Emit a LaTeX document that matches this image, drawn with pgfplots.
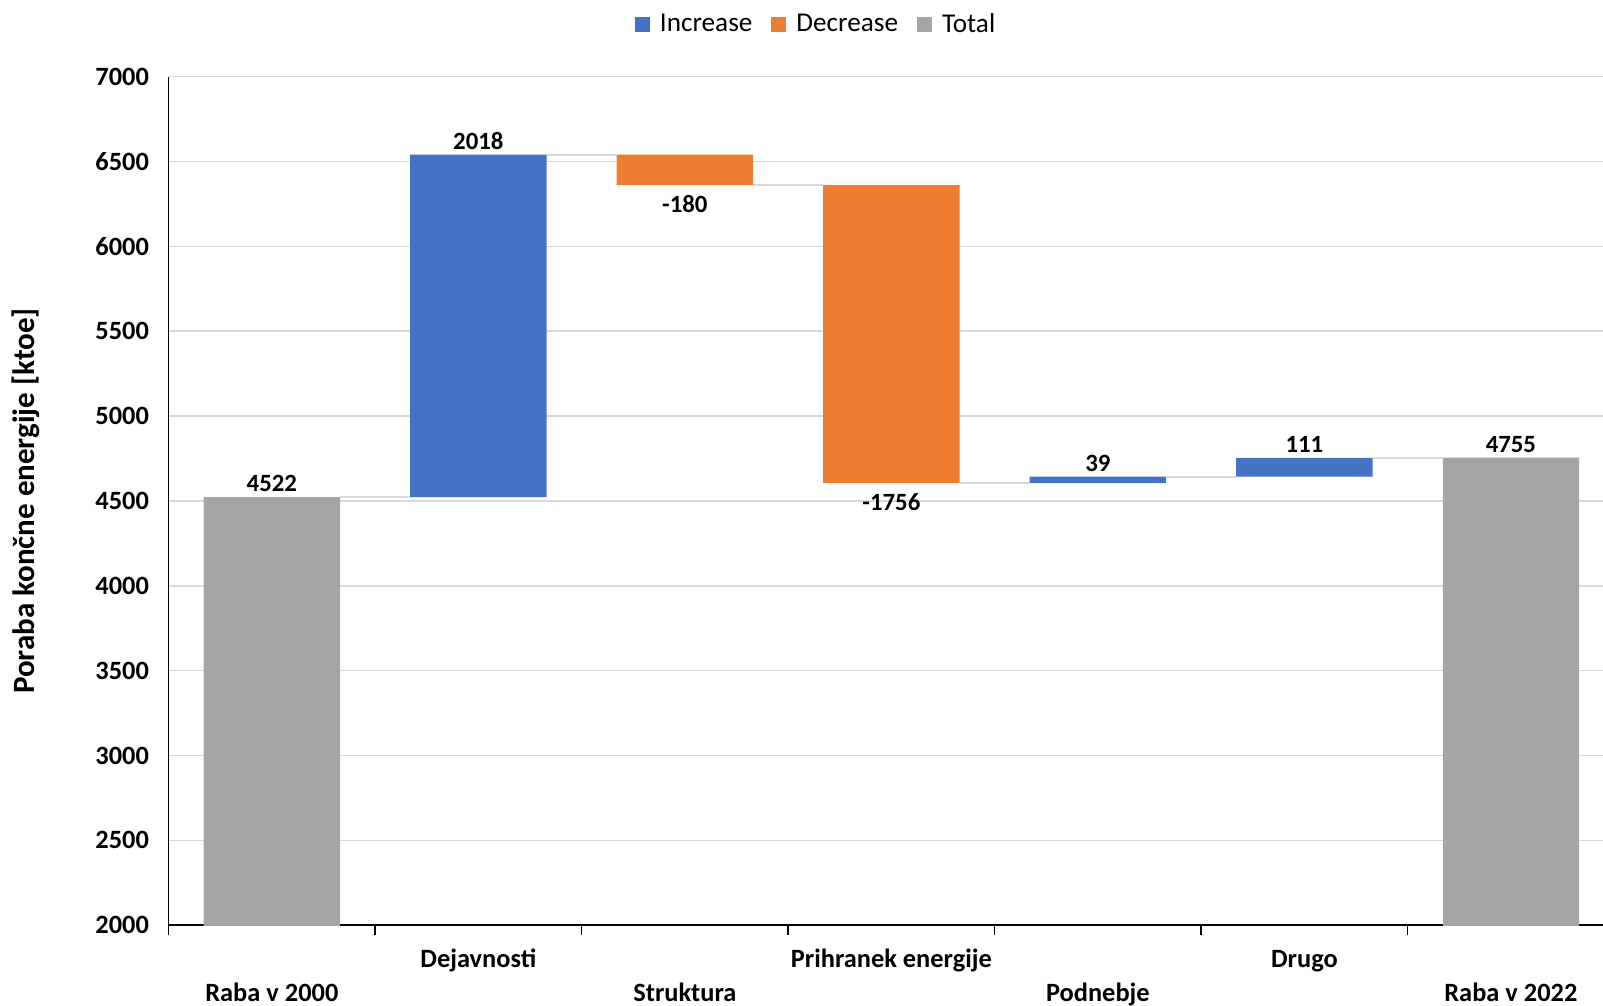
\documentclass[border=0pt]{standalone}
\usepackage{fontspec}
\setmainfont{Carlito}
\usepackage{pgfplots}
\pgfplotsset{compat=1.18}
\definecolor{inc}{HTML}{4472C4}
\definecolor{dec}{HTML}{ED7D31}
\definecolor{tot}{HTML}{A5A5A5}
\definecolor{gridc}{HTML}{D9D9D9}
\pgfplotsset{
  mybase/.style={
    at={(84.3pt,40.4pt)}, anchor=south west,
    scale only axis, width=717.2pt, height=424.3pt,
    xmin=-0.5, xmax=6.446, ymin=2000, ymax=7000,
  }
}
\newcommand{\tf}{\fontsize{13.2}{17}\selectfont}
\newcommand{\vf}{\fontsize{12.4}{15}\selectfont}
\begin{document}
\begin{tikzpicture}
\begin{axis}[mybase,
  ybar stacked, bar width=0.66,
  axis lines*=left, axis line style={black, line width=0.8pt},
  ytick={2000,2500,...,7000}, ymajorgrids, grid style={gridc, line width=0.8pt},
  ytick style={draw=none},
  xtick={0,...,6},
  xticklabels={{\strut\\Raba v 2000},{\strut Dejavnosti\\\strut},{\strut\\Struktura},{\strut Prihranek energije\\\strut},{\strut\\Podnebje},{\strut Drugo\\\strut},{\strut\\Raba v 2022}},
  major x tick style={draw=none},
  minor xtick={-0.5,0.5,...,6.5},
  minor x tick style={black, line width=0.8pt},
  minor tick length=5pt, tick align=outside,
  xticklabel style={align=center, font=\tf\bfseries, yshift=-1.5pt},
  yticklabel style={font=\tf\bfseries, xshift=-2pt},
  /pgf/number format/assume math mode=true,
  /pgf/number format/1000 sep={},
  ylabel={Poraba končne energije [ktoe]},
  ylabel style={at={(axis description cs:-0.0997,0.5)}, anchor=center, font=\fontsize{15.5}{18}\selectfont\bfseries},
  legend style={at={(axis description cs:0.4507,1.0615)}, anchor=center, draw=none, legend columns=3,
    font=\fontsize{13.6}{16}\selectfont, nodes={inner sep=0pt},
    /tikz/every odd column/.append style={column sep=5pt},
    /tikz/every even column/.append style={column sep=9.5pt}},
  legend image code/.code={\fill[#1] (0pt,-3.75pt) rectangle (7.5pt,3.75pt);},
]
\addplot[fill=none, draw=none, forget plot] coordinates {(0,0) (1,4522) (2,6360) (3,4604) (4,4604) (5,4643) (6,0)};
\addplot[fill=inc, draw=none] coordinates {(0,0) (1,2018) (2,0) (3,0) (4,39) (5,111) (6,0)};
\addplot[fill=dec, draw=none] coordinates {(0,0) (1,0) (2,180) (3,1756) (4,0) (5,0) (6,0)};
\addplot[fill=tot, draw=none] coordinates {(0,4522) (1,0) (2,0) (3,0) (4,0) (5,0) (6,4755)};
\legend{Increase, Decrease, Total}
\end{axis}
\begin{axis}[mybase, hide axis, clip=false]
\addplot[gridc, line width=1pt] coordinates {(0.33,4522) (0.67,4522)};
\addplot[gridc, line width=1pt] coordinates {(1.33,6540) (1.67,6540)};
\addplot[gridc, line width=1pt] coordinates {(2.33,6360) (2.67,6360)};
\addplot[gridc, line width=1pt] coordinates {(3.33,4604) (3.67,4604)};
\addplot[gridc, line width=1pt] coordinates {(4.33,4643) (4.67,4643)};
\addplot[gridc, line width=1pt] coordinates {(5.33,4754) (5.67,4754)};
\addplot[draw=none, mark=none, nodes near coords, point meta=explicit symbolic,
  nodes near coords style={anchor=south, font=\vf\bfseries, inner sep=2.5pt}]
  coordinates {(0,4522)[4522] (1,6540)[2018] (4,4643)[39] (5,4754)[111] (6,4755)[4755]};
\addplot[draw=none, mark=none, nodes near coords, point meta=explicit symbolic,
  nodes near coords style={anchor=north, font=\vf\bfseries, inner sep=5pt}]
  coordinates {(2,6360)[-180] (3,4604)[-1756]};
\end{axis}
\pgfresetboundingbox
\useasboundingbox (0,0) rectangle (801.5pt,503pt);
\end{tikzpicture}
\end{document}
